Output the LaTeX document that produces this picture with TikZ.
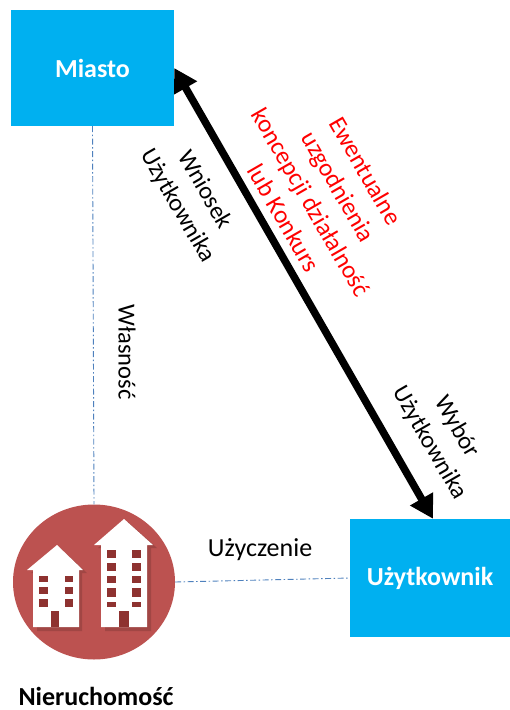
\documentclass[tikz,border=0pt]{standalone}
\usepackage{fontspec}
\setmainfont{Carlito}
\usetikzlibrary{arrows.meta,shapes.geometric}
\definecolor{boxblue}{HTML}{00B0F0}
\definecolor{linkblue}{HTML}{4F81BD}
\definecolor{discred}{HTML}{BC5250}
\definecolor{holered}{HTML}{8E3230}
\definecolor{shadered}{HTML}{A14644}
\tikzset{
  bluebox/.style={rectangle,fill=boxblue,inner sep=0pt,text=white,font=\fontsize{26}{30}\selectfont\bfseries},
  label/.style={align=center,inner sep=0pt,text=black,font=\fontsize{24.5}{31.5}\selectfont},
  redlabel/.style={label,text=red,font=\fontsize{25}{31.5}\selectfont},
  link/.style={draw=linkblue,line width=0.9pt,dash pattern=on 6pt off 2.5pt on 1.5pt off 2.5pt},
  bigarrow/.style={line width=7.5pt,{Triangle[length=23pt,width=25pt]}-{Triangle[length=23pt,width=25pt]}},
  wall/.style={fill=white},
  hole/.style={fill=holered},
  shade/.style={fill=shadered},
}
\begin{document}
\begin{tikzpicture}[x=1pt,y=-1pt]
\useasboundingbox (0,0) rectangle (510,710);
\node[bluebox,minimum width=163pt,minimum height=116pt] (miasto) at (92.5,68) {Miasto};
\node[bluebox,minimum width=160pt,minimum height=118pt] (uzytk) at (430,578) {Użytkownik};
\node[ellipse,fill=discred,minimum width=162pt,minimum height=155pt,inner sep=0pt] (nier) at (94,582) {};
\coordinate (start) at (miasto.east);
\coordinate (end) at ([xshift=3pt]uzytk.north);
\draw[link] (miasto.south) -- (nier.north);
\draw[link] (nier.east) -- (uzytk.west);
\draw[bigarrow] (start) -- (end);
% shadows
\fill[shade] (31,573) -- (60,548) -- (87,573) -- (82,573) -- (82,631) -- (37,631) -- (37,573) -- cycle;
\fill[shade] (98,548) -- (128,522) -- (157,548) -- (151,548) -- (151,631) -- (105,631) -- (105,548) -- cycle;
% left building
\fill[wall] (27,570) -- (57,545) -- (83,570) -- (79,570) -- (79,627) -- (33,627) -- (33,570) -- cycle;
\foreach \yy/\hh in {576/6,587/7,599/8}{
  \fill[hole] (39,\yy) rectangle +(9,\hh);
  \fill[hole] (65,\yy) rectangle +(8,\hh);
}
\fill[hole] (51,611) rectangle (59,627);
% right building
\fill[wall] (94,545) -- (124,519) -- (153,545) -- (147,545) -- (147,627) -- (101,627) -- (101,545) -- cycle;
\foreach \yy/\hh in {550/8,563/8,576/7,588/9,602/5}{
  \fill[hole] (107,\yy) rectangle +(9,\hh);
  \fill[hole] (132,\yy) rectangle +(9,\hh);
}
\fill[hole] (119,611) rectangle (129,627);
% labels
\node[label,font=\fontsize{26}{30}\selectfont\bfseries] (nlab) at (96,696) {Nieruchomość};
\node[label,font=\fontsize{26}{30}\selectfont] (uzyczenie) at (260,550) {Użyczenie};
\node[label,rotate=-90] (wlasnosc) at (127,352) {Własność};
\node[label,rotate=-60] (wniosek) at (191,198) {Wniosek\\Użytkownika};
\node[label,rotate=-60] (wybor) at (443,435) {Wybór\\Użytkownika};
\node[redlabel,rotate=-60] (ewent) at (325,194.5) {Ewentualne\\uzgodnienia\\koncepcji działalność\\lub Konkurs};
\end{tikzpicture}
\end{document}
